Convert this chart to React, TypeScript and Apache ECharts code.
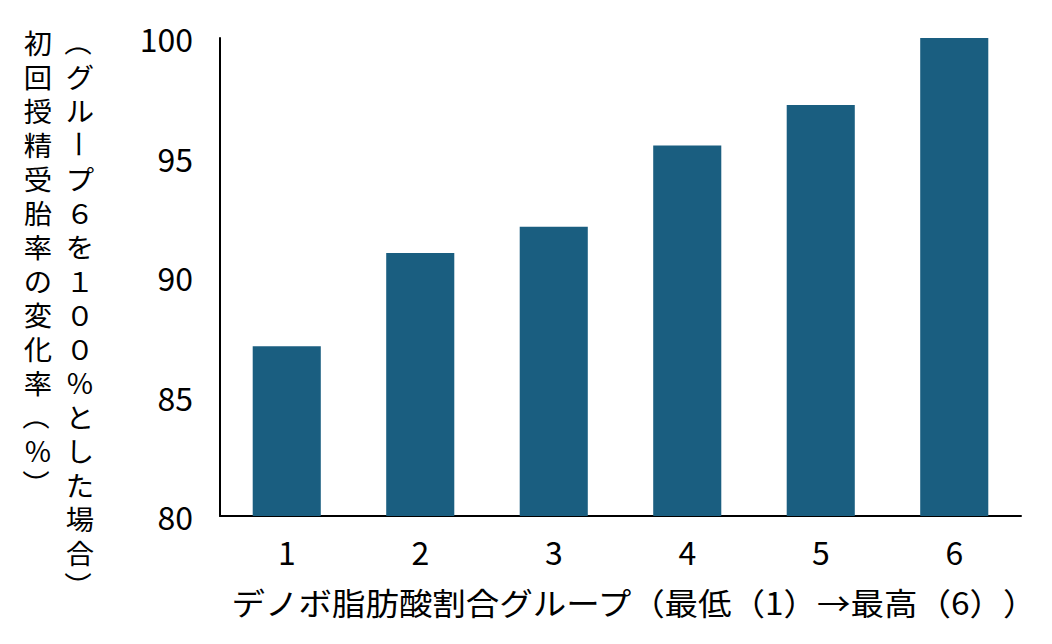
import React, { useEffect, useRef } from "react";
import * as echarts from "echarts";

const categories = ["1", "2", "3", "4", "5", "6"];
const values = [87.1, 91.0, 92.1, 95.5, 97.2, 100];
const yTicks = { min: 80, max: 100, interval: 5 };
const xTitle = "デノボ脂肪酸割合グループ（最低（1）→最高（6））";
const yTitleLeft = "初回授精受胎率の変化率（％）";
const yTitleRight = "（グループ６を１００％とした場合）";

const NUM_FONT = "'Liberation Sans Narrow', 'Noto Sans CJK JP', sans-serif";
const JP_FONT = "'Noto Sans CJK JP', sans-serif";

function verticalText(str: string, cx: number, y0: number, step: number) {
  const els: any[] = [];
  const chars = Array.from(str);
  chars.forEach((ch, i) => {
    const rotate = ch === "（" || ch === "）" || ch === "ー";
    els.push({
      type: "text",
      x: cx,
      y: y0 + i * step,
      scaleX: 1.35,
      scaleY: 1.3,
      rotation: rotate ? -Math.PI / 2 : 0,
      style: {
        text: ch,
        fontSize: 21,
        lineHeight: 21,
        fontFamily: JP_FONT,
        fill: "#000",
        align: "center",
        verticalAlign: "middle",
      },
    });
  });
  return els;
}

export default function App() {
  const ref = useRef<HTMLDivElement>(null);
  useEffect(() => {
    if (!ref.current) return;
    document.body.style.margin = "0";
    ref.current.style.setProperty("text-spacing-trim", "space-all");
    const chart = echarts.init(ref.current, undefined, { renderer: "svg" });
    chart.setOption({
      animation: false,
      backgroundColor: "#fff",
      grid: { left: 220, right: 31, top: 38, bottom: 128, containLabel: false },
      xAxis: {
        type: "category",
        data: categories,
        axisLine: { show: true, lineStyle: { color: "#000", width: 2 } },
        axisTick: { show: false },
        axisLabel: {
          fontSize: 32,
          fontFamily: NUM_FONT,
          color: "#000",
          margin: 19,
        },
      },
      yAxis: {
        type: "value",
        min: yTicks.min,
        max: yTicks.max,
        interval: yTicks.interval,
        axisLine: { show: true, lineStyle: { color: "#000", width: 2 } },
        axisTick: { show: false },
        splitLine: { show: false },
        axisLabel: {
          fontSize: 32,
          fontFamily: NUM_FONT,
          color: "#000",
          margin: 27,
        },
      },
      series: [
        {
          type: "bar",
          data: values,
          barWidth: "51%",
          itemStyle: { color: "#1A5E80" },
        },
      ],
      graphic: [
        ...verticalText(yTitleLeft, 38, 42, 34),
        ...verticalText(yTitleRight, 80, 42, 34),
        {
          type: "text",
          x: 634,
          y: 602,
          scaleX: 1.08,
          style: {
            text: xTitle,
            fontSize: 31,
            fontFamily: JP_FONT,
            fill: "#000",
            align: "center",
            verticalAlign: "middle",
          },
        },
      ],
    });
    return () => chart.dispose();
  }, []);
  return <div ref={ref} style={{ width: 1052, height: 644 }} />;
}
